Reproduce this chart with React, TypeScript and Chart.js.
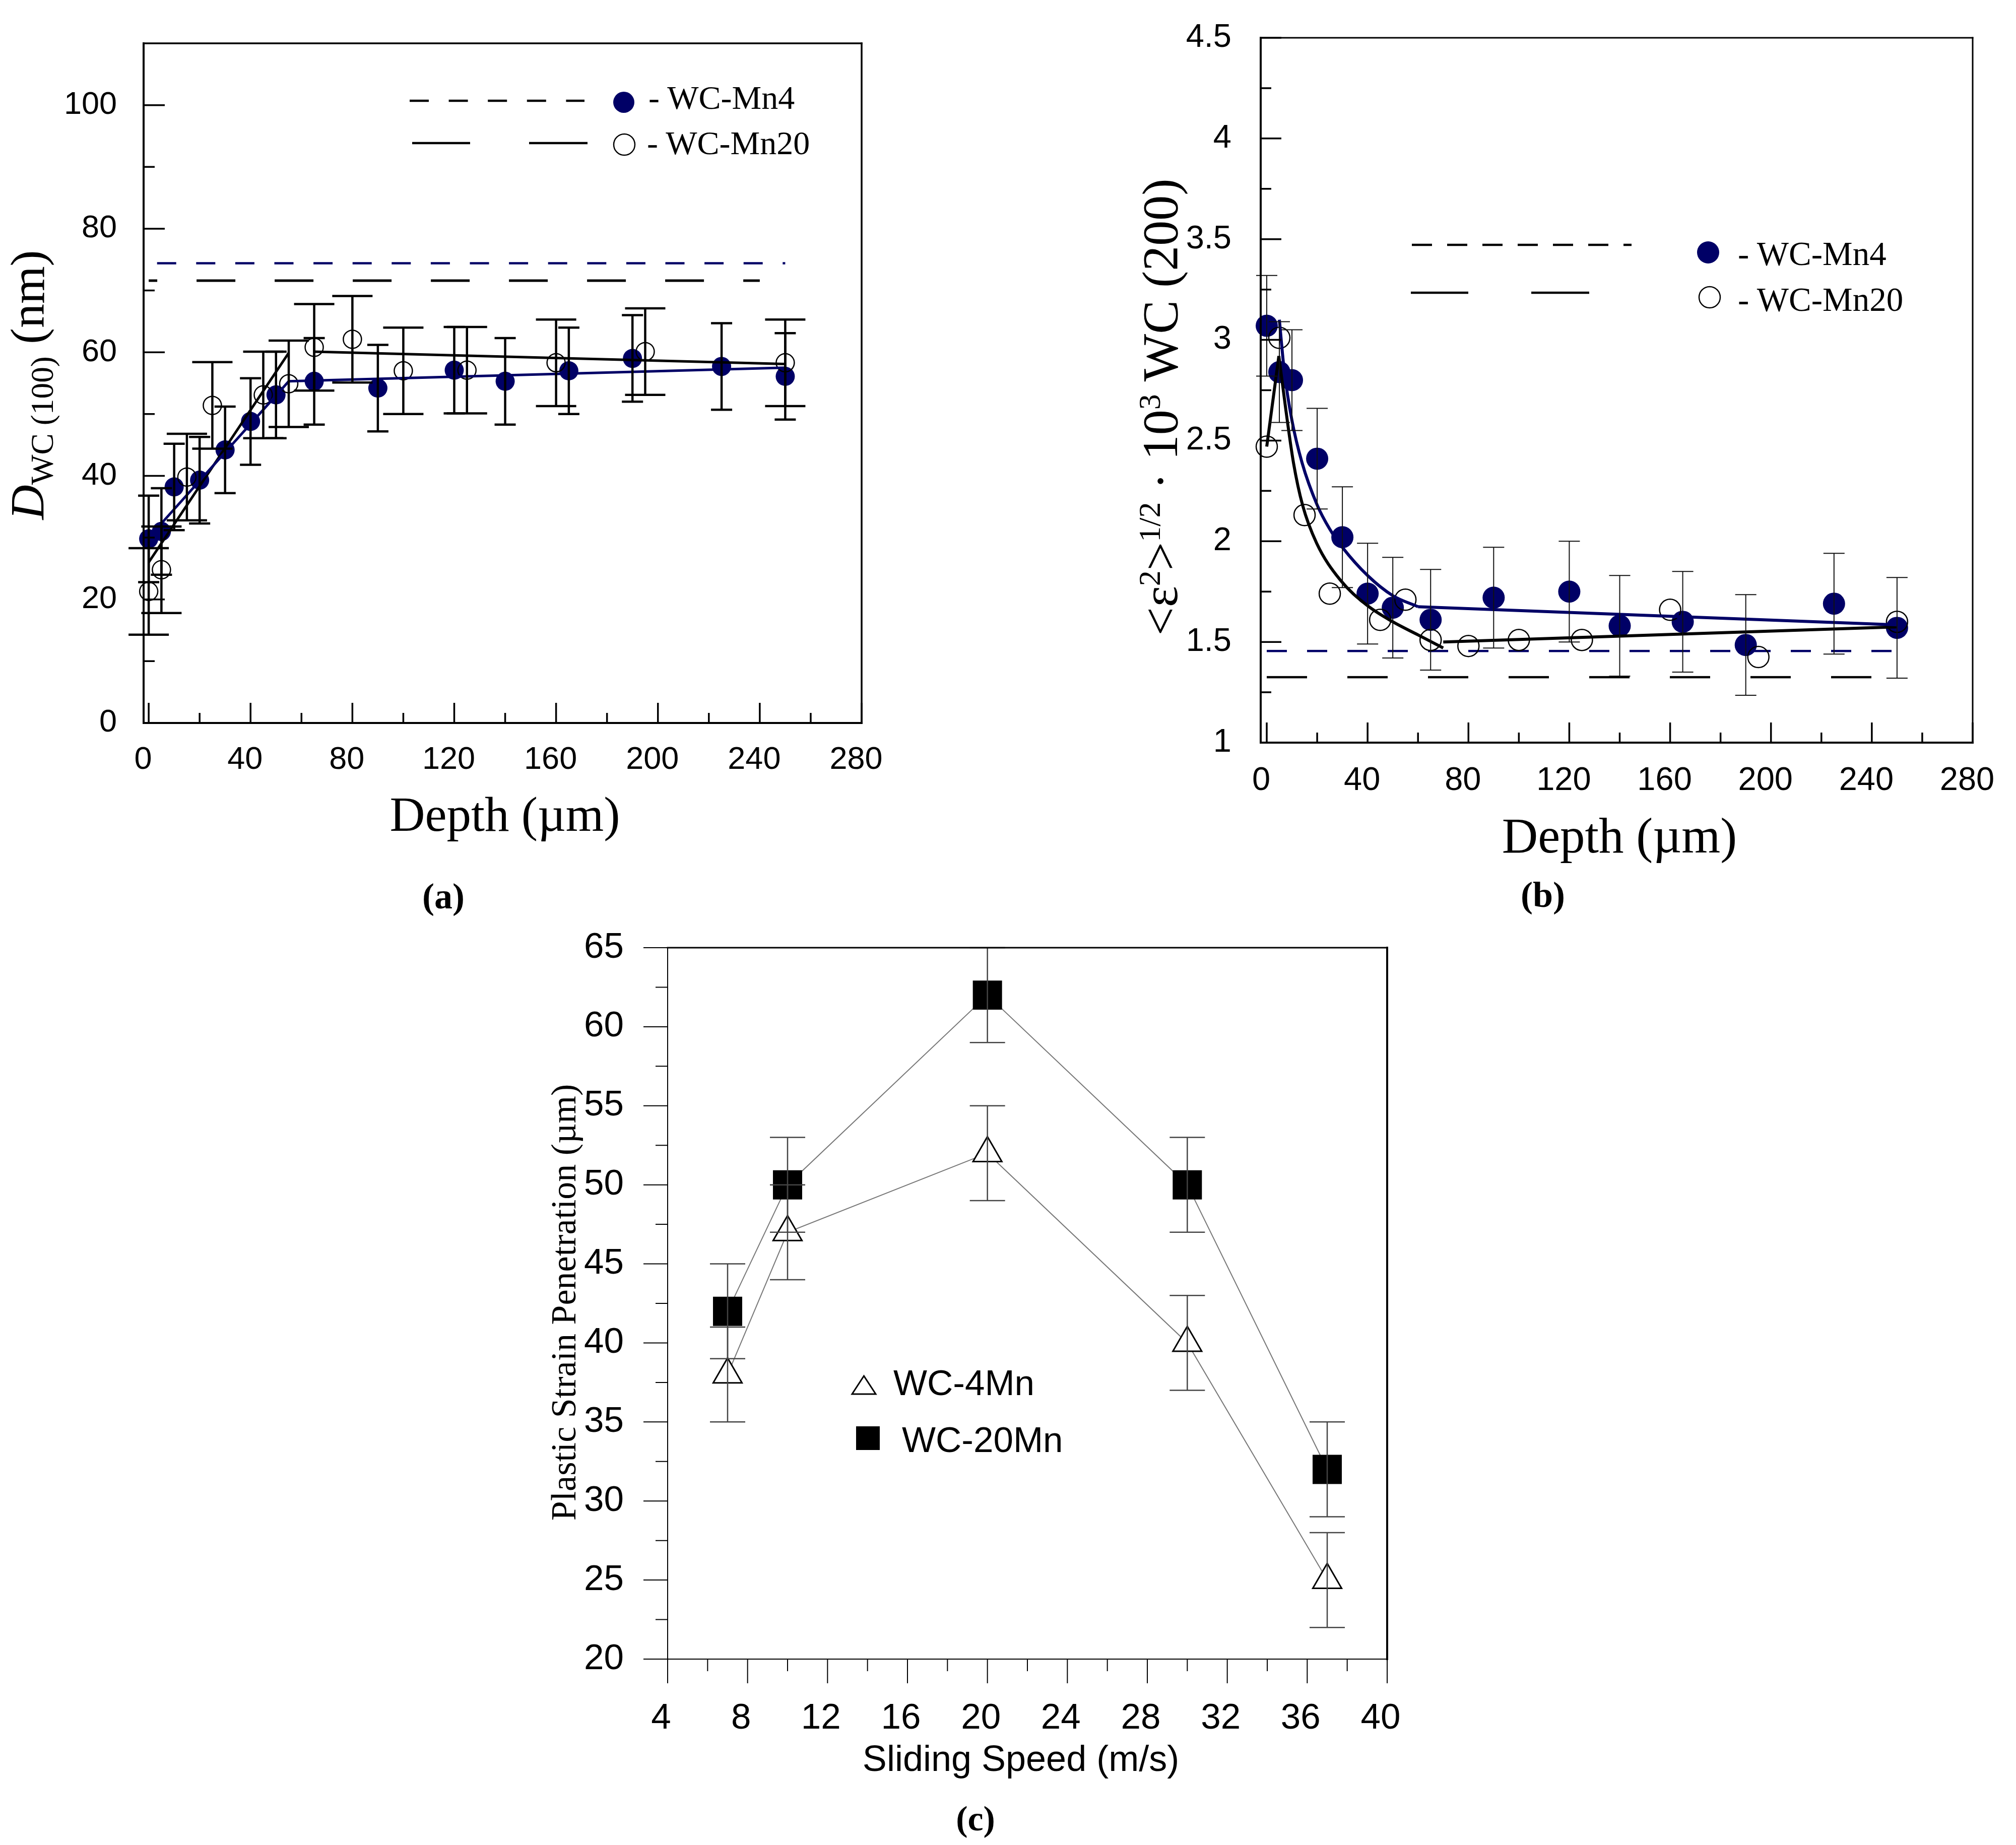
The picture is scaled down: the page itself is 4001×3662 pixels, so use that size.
import React, { useEffect, useRef } from "react";
import { Chart, registerables } from "chart.js";

Chart.register(...registerables);

// ---------------- Panel (a): crystallite size vs depth ----------------
const depthA_Mn4 = [0, 5, 10, 20, 30, 40, 50, 65, 90, 120, 140, 165, 190, 225, 250];
const sizeA_Mn4 = [29.8, 31.0, 38.2, 39.3, 44.2, 48.8, 53.1, 55.3, 54.2, 57.1, 55.3, 57.0, 59.0, 57.7, 56.1];
const errA_Mn4 = [7, 7, 7, 7, 7, 7, 7, 7, 7, 7, 7, 7, 7, 7, 7];
const depthA_Mn20 = [0, 5, 15, 25, 45, 55, 65, 80, 100, 125, 160, 195, 250];
const sizeA_Mn20 = [21.3, 24.8, 39.8, 51.4, 53.1, 54.9, 60.8, 62.1, 57.0, 57.1, 58.3, 60.1, 58.3];
const errA_Mn20 = [7, 7, 7, 7, 7, 7, 7, 7, 7, 7, 7, 7, 7];
const fitA_Mn4_x = [0, 55, 250];
const fitA_Mn4_y = [30.0, 55.3, 57.5];
const fitA_Mn20_riseX = [0, 55];
const fitA_Mn20_riseY = [26.0, 59.9];
const fitA_Mn20_flatX = [65, 250];
const fitA_Mn20_flatY = [60.1, 58.1];
const refA_Mn4 = 74.4;
const refA_Mn20 = 71.6;
const refA_Mn4_span = [0, 250];
const refA_Mn20_span = [0, 240];
const ticksA_X = [0, 40, 80, 120, 160, 200, 240, 280];
const ticksA_Y = [0, 20, 40, 60, 80, 100];

// ---------------- Panel (b): microstrain vs depth ----------------
const depthB_Mn4 = [0, 5, 10, 20, 30, 40, 50, 65, 90, 120, 140, 165, 190, 225, 250];
const strainB_Mn4 = [3.07, 2.84, 2.80, 2.41, 2.02, 1.74, 1.67, 1.61, 1.72, 1.75, 1.58, 1.60, 1.485, 1.69, 1.57];
const errB_Mn4 = [0.25, 0.25, 0.25, 0.25, 0.25, 0.25, 0.25, 0.25, 0.25, 0.25, 0.25, 0.25, 0.25, 0.25, 0.25];
const depthB_Mn20 = [0, 5, 15, 25, 45, 55, 65, 80, 100, 125, 160, 195, 250];
const strainB_Mn20 = [2.47, 3.01, 2.13, 1.74, 1.61, 1.71, 1.51, 1.48, 1.51, 1.51, 1.66, 1.425, 1.60];
const fitB_Mn4_curveX = [5, 7, 10, 14, 20, 25, 30, 40, 50, 60];
const fitB_Mn4_curveY = [3.10, 2.84, 2.60, 2.39, 2.18, 2.06, 1.97, 1.83, 1.73, 1.675];
const fitB_Mn4_lineX = [60, 250];
const fitB_Mn4_lineY = [1.675, 1.585];
const fitB_Mn20_riseX = [0, 4.8];
const fitB_Mn20_riseY = [2.47, 2.92];
const fitB_Mn20_curveX = [4.8, 7.6, 10.6, 14.2, 19.8, 29, 40, 50, 60, 70];
const fitB_Mn20_curveY = [2.92, 2.65, 2.39, 2.18, 1.99, 1.81, 1.68, 1.60, 1.535, 1.47];
const fitB_Mn20_lineX = [70, 250];
const fitB_Mn20_lineY = [1.50, 1.575];
const refB_Mn4 = 1.455;
const refB_Mn20 = 1.325;
const refB_span = [0, 250];
const ticksB_X = [0, 40, 80, 120, 160, 200, 240, 280];
const ticksB_Y = [1, 1.5, 2, 2.5, 3, 3.5, 4, 4.5];

// ---------------- Panel (c): plastic strain penetration vs sliding speed ----------------
const speedC = [7, 10, 20, 30, 37];
const penC_4Mn = [38, 47, 52, 40, 25];
const penC_20Mn = [42, 50, 62, 50, 32];
const errC_4Mn = [3, 3, 3, 3, 3];
const errC_20Mn = [3, 3, 3, 3, 3];
const ticksC_X = [4, 8, 12, 16, 20, 24, 28, 32, 36, 40];
const ticksC_Y = [20, 25, 30, 35, 40, 45, 50, 55, 60, 65];

// ---------------- helpers ----------------
const SANS = '"Liberation Sans", Arial, Helvetica, sans-serif';
const SERIF = '"Liberation Serif", "Times New Roman", Times, serif';
const NAVY = "#000066";

const pts = (xs: number[], ys: number[]) => xs.map((x, i) => ({ x, y: ys[i] }));
const flat = (xs: number[], y: number) => xs.map((x) => ({ x, y }));
const mids = (v: number[]) => v.slice(1).map((b, i) => (b + v[i]) / 2);

function lineDs(data: any[], color: string, width: number, dash: number[] = [], dashOffset = 0, smooth = false) {
  return {
    data,
    showLine: true,
    borderColor: color,
    borderWidth: width,
    borderDash: dash,
    borderDashOffset: dashOffset,
    borderCapStyle: "butt",
    pointRadius: 0,
    pointHoverRadius: 0,
    fill: false,
    clip: false,
    tension: smooth ? 0.4 : 0,
    cubicInterpolationMode: smooth ? "monotone" : "default",
  };
}

function pointDs(data: any[], radius: number, fillColor: string, strokeColor: string, strokeWidth: number, style = "circle", lineColor = "", lineWidth = 0) {
  return {
    data,
    showLine: !!lineColor,
    borderColor: lineColor || strokeColor,
    borderWidth: lineWidth,
    pointStyle: style,
    pointRadius: radius,
    pointHoverRadius: radius,
    pointBackgroundColor: fillColor,
    pointBorderColor: strokeColor,
    pointBorderWidth: strokeWidth,
    pointHoverBorderWidth: strokeWidth,
    fill: false,
    clip: false,
    tension: 0,
  };
}

function linAxis(o: { min: number; max: number; ticks: number[]; size: number; padding: number; labelOffset?: number; fit: number; position: string }) {
  return {
    type: "linear",
    position: o.position,
    min: o.min,
    max: o.max,
    afterBuildTicks: (s: any) => {
      s.ticks = o.ticks.map((v) => ({ value: v }));
    },
    afterFit: (s: any) => {
      if (s.isHorizontal()) s.height = o.fit;
      else s.width = o.fit;
      s.paddingLeft = 0;
      s.paddingRight = 0;
      s.paddingTop = 0;
      s.paddingBottom = 0;
    },
    grid: { display: false, drawTicks: false },
    border: { display: false },
    ticks: {
      autoSkip: false,
      maxRotation: 0,
      minRotation: 0,
      padding: o.padding,
      labelOffset: o.labelOffset || 0,
      color: "#000",
      font: { family: SANS, size: o.size },
      callback: (v: any) => String(v),
    },
  };
}

type TickSet = { axis: "x" | "y"; values: number[]; len: number; width: number; out?: boolean };
type BarSet = { xs: number[]; ys: number[]; errs: number[]; cap: number; width: number; color: string };
type Decor = { frame: { l: number; b: number; t: number; r: number }; ticks: TickSet[]; bars: BarSet[] };

function decorPlugin(d: Decor) {
  return {
    id: "decor",
    afterDatasetsDraw(chart: any) {
      const ctx = chart.ctx as CanvasRenderingContext2D;
      const { left, right, top, bottom } = chart.chartArea;
      const sx = chart.scales.x;
      const sy = chart.scales.y;
      ctx.save();
      ctx.lineCap = "butt";
      for (const e of d.bars) {
        ctx.strokeStyle = e.color;
        ctx.lineWidth = e.width;
        ctx.beginPath();
        e.xs.forEach((xv, i) => {
          const px = sx.getPixelForValue(xv);
          const hi = sy.getPixelForValue(e.ys[i] + e.errs[i]);
          const lo = sy.getPixelForValue(e.ys[i] - e.errs[i]);
          ctx.moveTo(px, hi);
          ctx.lineTo(px, lo);
          ctx.moveTo(px - e.cap / 2, hi);
          ctx.lineTo(px + e.cap / 2, hi);
          ctx.moveTo(px - e.cap / 2, lo);
          ctx.lineTo(px + e.cap / 2, lo);
        });
        ctx.stroke();
      }
      ctx.strokeStyle = "#000";
      for (const t of d.ticks) {
        ctx.lineWidth = t.width;
        ctx.beginPath();
        for (const v of t.values) {
          if (t.axis === "x") {
            const px = sx.getPixelForValue(v);
            ctx.moveTo(px, bottom);
            ctx.lineTo(px, t.out ? bottom + t.len : bottom - t.len);
          } else {
            const py = sy.getPixelForValue(v);
            ctx.moveTo(left, py);
            ctx.lineTo(t.out ? left - t.len : left + t.len, py);
          }
        }
        ctx.stroke();
      }
      ctx.lineCap = "square";
      const seg = (w: number, x1: number, y1: number, x2: number, y2: number) => {
        ctx.lineWidth = w;
        ctx.beginPath();
        ctx.moveTo(x1, y1);
        ctx.lineTo(x2, y2);
        ctx.stroke();
      };
      const f = d.frame;
      seg(f.l, left, top, left, bottom);
      seg(f.b, left, bottom, right, bottom);
      seg(f.t, left, top, right, top);
      seg(f.r, right, top, right, bottom);
      ctx.restore();
    },
  };
}

function baseOptions(padding: any, scales: any) {
  return {
    responsive: false,
    maintainAspectRatio: false,
    animation: false,
    devicePixelRatio: 1,
    events: [],
    layout: { padding },
    plugins: { legend: { display: false }, tooltip: { enabled: false }, title: { display: false } },
    scales,
  };
}

// ---------------- chart configs ----------------
function configA() {
  const datasets = [
    lineDs(pts(fitA_Mn4_x, fitA_Mn4_y), NAVY, 5),
    lineDs(pts(fitA_Mn20_riseX, fitA_Mn20_riseY), "#000", 5),
    lineDs(pts(fitA_Mn20_flatX, fitA_Mn20_flatY), "#000", 5),
    pointDs(pts(depthA_Mn20, sizeA_Mn20), 18, "rgba(0,0,0,0)", "#000", 2.5),
    pointDs(pts(depthA_Mn4, sizeA_Mn4), 19, NAVY, NAVY, 0),
    lineDs(flat(refA_Mn4_span, refA_Mn4), NAVY, 4.5, [38, 39.6], 61),
    lineDs(flat(refA_Mn20_span, refA_Mn20), "#000", 5, [77, 78], 60),
  ];
  const decor = decorPlugin({
    frame: { l: 4, b: 4, t: 3.5, r: 3.5 },
    ticks: [
      { axis: "x", values: ticksA_X, len: 40, width: 3.5 },
      { axis: "x", values: mids(ticksA_X), len: 20, width: 3.5 },
      { axis: "y", values: ticksA_Y, len: 42, width: 3.5 },
      { axis: "y", values: mids(ticksA_Y), len: 22, width: 3.5 },
    ],
    bars: [
      { xs: depthA_Mn20, ys: sizeA_Mn20, errs: errA_Mn20, cap: 80, width: 4.5, color: "#000" },
      { xs: depthA_Mn4, ys: sizeA_Mn4, errs: errA_Mn4, cap: 42, width: 4.5, color: "#000" },
    ],
  });
  return {
    type: "scatter",
    data: { datasets },
    options: baseOptions(
      { left: 0, top: 46, right: 50, bottom: 0 },
      {
        x: linAxis({ min: -2, max: 280, ticks: ticksA_X, size: 63, padding: 36, labelOffset: -11, fit: 125, position: "bottom" }),
        y: linAxis({ min: 0, max: 110, ticks: ticksA_Y, size: 63, padding: 53, fit: 185, position: "left" }),
      }
    ),
    plugins: [decor],
  };
}

function configB() {
  const datasets = [
    lineDs(pts(fitB_Mn4_curveX, fitB_Mn4_curveY), NAVY, 6, [], 0, true),
    lineDs(pts(fitB_Mn4_lineX, fitB_Mn4_lineY), NAVY, 6),
    lineDs(pts(fitB_Mn20_riseX, fitB_Mn20_riseY), "#000", 6),
    lineDs(pts(fitB_Mn20_curveX, fitB_Mn20_curveY), "#000", 6, [], 0, true),
    lineDs(pts(fitB_Mn20_lineX, fitB_Mn20_lineY), "#000", 6),
    pointDs(pts(depthB_Mn20, strainB_Mn20), 21, "rgba(0,0,0,0)", "#000", 2.5),
    pointDs(pts(depthB_Mn4, strainB_Mn4), 22, NAVY, NAVY, 0),
    lineDs(flat(refB_span, refB_Mn4), NAVY, 4.5, [40, 40]),
    lineDs(flat(refB_span, refB_Mn20), "#000", 4.5, [80, 80]),
  ];
  const decor = decorPlugin({
    frame: { l: 4, b: 4, t: 3, r: 3 },
    ticks: [
      { axis: "x", values: ticksB_X, len: 40, width: 3.5 },
      { axis: "x", values: mids(ticksB_X), len: 20, width: 3.5 },
      { axis: "y", values: ticksB_Y, len: 41, width: 3.5 },
      { axis: "y", values: mids(ticksB_Y), len: 21, width: 3.5 },
    ],
    bars: [{ xs: depthB_Mn4, ys: strainB_Mn4, errs: errB_Mn4, cap: 42, width: 2, color: "#111" }],
  });
  return {
    type: "scatter",
    data: { datasets },
    options: baseOptions(
      { left: 0, top: 45, right: 65, bottom: 0 },
      {
        x: linAxis({ min: -2.4, max: 280, ticks: ticksB_X, size: 65, padding: 37, labelOffset: -11, fit: 116, position: "bottom" }),
        y: linAxis({ min: 1, max: 4.5, ticks: ticksB_Y, size: 65, padding: 58, fit: 202, position: "left" }),
      }
    ),
    plugins: [decor],
  };
}

function configC() {
  const datasets = [
    pointDs(pts(speedC, penC_4Mn), 33, "#fff", "#000", 3, "triangle", "#777", 2),
    pointDs(pts(speedC, penC_20Mn), 41, "#000", "#000", 0, "rect", "#777", 2),
  ];
  const decor = decorPlugin({
    frame: { l: 2, b: 2, t: 3, r: 4 },
    ticks: [
      { axis: "x", values: ticksC_X, len: 48, width: 2, out: true },
      { axis: "x", values: mids(ticksC_X), len: 24, width: 2, out: true },
      { axis: "y", values: ticksC_Y, len: 48, width: 2, out: true },
      { axis: "y", values: mids(ticksC_Y), len: 24, width: 2, out: true },
    ],
    bars: [
      { xs: speedC, ys: penC_4Mn, errs: errC_4Mn, cap: 70, width: 2.5, color: "#444" },
      { xs: speedC, ys: penC_20Mn, errs: errC_20Mn, cap: 70, width: 2.5, color: "#444" },
    ],
  });
  return {
    type: "scatter",
    data: { datasets },
    options: baseOptions(
      { left: 0, top: 29, right: 47, bottom: 87 },
      {
        x: linAxis({ min: 4, max: 40, ticks: ticksC_X, size: 71, padding: 76, labelOffset: -13, fit: 180, position: "bottom" }),
        y: linAxis({ min: 20, max: 65, ticks: ticksC_Y, size: 71, padding: 87, fit: 245, position: "left" }),
      }
    ),
    plugins: [decor],
  };
}

function ChartCanvas(props: { left: number; top: number; width: number; height: number; make: () => any }) {
  const ref = useRef<HTMLCanvasElement | null>(null);
  useEffect(() => {
    const chart = new Chart(ref.current as HTMLCanvasElement, props.make());
    return () => chart.destroy();
  }, []);
  return (
    <canvas
      ref={ref}
      width={props.width}
      height={props.height}
      style={{ position: "absolute", left: props.left, top: props.top, width: props.width, height: props.height }}
    />
  );
}

function Txt(props: { x: number; y: number; size: number; family: string; weight?: number; start?: boolean; rotate?: number; children: any }) {
  const tr = `translate(${props.start ? "0" : "-50%"}, -50%)` + (props.rotate ? ` rotate(${props.rotate}deg)` : "");
  return (
    <div
      style={{
        position: "absolute",
        left: props.x,
        top: props.y,
        transform: tr,
        fontFamily: props.family,
        fontSize: props.size,
        fontWeight: props.weight || 400,
        lineHeight: 1,
        whiteSpace: "nowrap",
        color: "#000",
      }}
    >
      {props.children}
    </div>
  );
}

const supStyle: any = { fontSize: "0.62em", position: "relative", top: "-0.55em", verticalAlign: "baseline" };
const subStyle: any = { fontSize: "0.66em", position: "relative", top: "0.28em", verticalAlign: "baseline" };

export default function App() {
  return (
    <div style={{ position: "absolute", left: 0, top: 0, width: 4001, height: 3662, background: "#fff", overflow: "hidden" }}>
      <ChartCanvas left={100} top={40} width={1660} height={1520} make={configA} />
      <ChartCanvas left={2300} top={30} width={1680} height={1560} make={configB} />
      <ChartCanvas left={1080} top={1840} width={1720} height={1720} make={configC} />

      <svg width={4001} height={3662} style={{ position: "absolute", left: 0, top: 0, pointerEvents: "none" }}>
        {/* legend (a) */}
        <line x1={813} y1={200} x2={1160} y2={200} stroke="#000" strokeWidth={4.6} strokeDasharray="38 39.6" />
        <circle cx={1238} cy={203} r={21} fill={NAVY} />
        <line x1={818} y1={284} x2={933} y2={284} stroke="#000" strokeWidth={4.6} />
        <line x1={1050} y1={284} x2={1166} y2={284} stroke="#000" strokeWidth={4.6} />
        <circle cx={1239} cy={287} r={21} fill="none" stroke="#000" strokeWidth={2.5} />
        {/* legend (b) */}
        <line x1={2802} y1={486} x2={3238} y2={486} stroke="#000" strokeWidth={4.5} strokeDasharray="40 30" />
        <circle cx={3390} cy={501} r={22} fill={NAVY} />
        <line x1={2800} y1={581} x2={2914} y2={581} stroke="#000" strokeWidth={4.5} />
        <line x1={3039} y1={581} x2={3154} y2={581} stroke="#000" strokeWidth={4.5} />
        <circle cx={3393} cy={590} r={21} fill="none" stroke="#000" strokeWidth={2.5} />
        {/* legend (c) */}
        <polygon points="1714.5,2731 1691,2767 1738,2767" fill="#fff" stroke="#000" strokeWidth={3} />
        <rect x={1699} y={2831} width={47} height={47} fill="#000" />
      </svg>

      {/* panel (a) text */}
      <Txt x={55} y={764} size={96} family={SERIF} rotate={-90}>
        <i>D</i>
        <span style={subStyle}>WC (100)</span> (nm)
      </Txt>
      <Txt x={1002} y={1616} size={97} family={SERIF}>Depth (µm)</Txt>
      <Txt x={880} y={1779} size={72} family={SERIF} weight={700}>(a)</Txt>
      <Txt x={1287} y={194} size={66} family={SERIF} start>- WC-Mn4</Txt>
      <Txt x={1284} y={284} size={66} family={SERIF} start>- WC-Mn20</Txt>

      {/* panel (b) text */}
      <Txt x={2303} y={808} size={100} family={SERIF} rotate={-90}>
        &lt;ε<span style={supStyle}>2</span>&gt;<span style={supStyle}>1/2</span> · 10<span style={supStyle}>3</span> WC (200)
      </Txt>
      <Txt x={3214} y={1658} size={99} family={SERIF}>Depth (µm)</Txt>
      <Txt x={3062} y={1776} size={72} family={SERIF} weight={700}>(b)</Txt>
      <Txt x={3449} y={503} size={67} family={SERIF} start>- WC-Mn4</Txt>
      <Txt x={3449} y={594} size={67} family={SERIF} start>- WC-Mn20</Txt>

      {/* panel (c) text */}
      <Txt x={1119} y={2585} size={70} family={SERIF} rotate={-90}>Plastic Strain Penetration (µm)</Txt>
      <Txt x={2026} y={3490} size={72} family={SANS}>Sliding Speed (m/s)</Txt>
      <Txt x={1936} y={3610} size={70} family={SERIF} weight={700}>(c)</Txt>
      <Txt x={1773} y={2744} size={71} family={SANS} start>WC-4Mn</Txt>
      <Txt x={1790} y={2857} size={71} family={SANS} start>WC-20Mn</Txt>
    </div>
  );
}
